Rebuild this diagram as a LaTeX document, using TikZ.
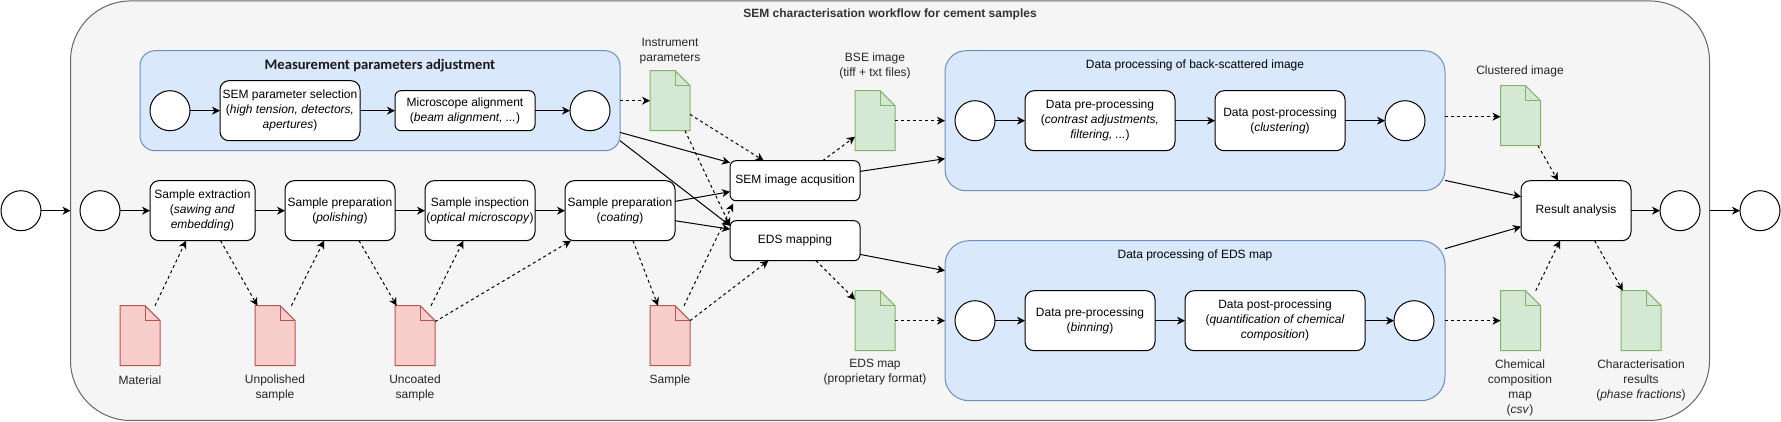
\documentclass[tikz,border=0pt]{standalone}
\usepackage{fontspec}
\setmainfont{Liberation Sans}
\newfontfamily\titlefont{Carlito}
\usetikzlibrary{arrows.meta,calc}
\definecolor{outerfill}{HTML}{F5F5F5}
\definecolor{outerline}{HTML}{666666}
\definecolor{bluefill}{HTML}{DAE8FC}
\definecolor{blueline}{HTML}{6C8EBF}
\definecolor{redfill}{HTML}{F8CECC}
\definecolor{redline}{HTML}{B85450}
\definecolor{greenfill}{HTML}{D5E8D4}
\definecolor{greenline}{HTML}{82B366}
\definecolor{titlegrey}{HTML}{333333}
\newcommand{\pbox}[7]{\node[procbox,rounded corners=#7,minimum width=#3-#2,minimum height=#5-#4] (#1) at ({(#2+#3)/2},{(#4+#5)/2}) {#6};}
\newcommand{\doc}[5]{%
 \path[draw=#5,fill=#4,line width=1pt] (#2,#3) -- (#2+25,#3) -- (#2+40,#3+15) -- (#2+40,#3+60) -- (#2,#3+60) -- cycle;
 \path[draw=#5,line width=1pt] (#2+25,#3) -- (#2+25,#3+15) -- (#2+40,#3+15);
 \node[minimum width=40,minimum height=60,inner sep=0pt,outer sep=0pt] (#1) at (#2+20,#3+30) {};
}
\tikzset{
 x=1pt,y=-1pt,
 every node/.style={font=\fontsize{12}{15}\selectfont,align=center,text=black,inner sep=0pt,outer sep=0pt},
 procbox/.style={draw=black,fill=white,line width=1pt},
 evt/.style={circle,draw=black,fill=white,line width=1pt,minimum size=40},
 lane/.style={draw=blueline,fill=bluefill,line width=1pt},
 flow/.style={draw=black,line width=1pt,-{Stealth[length=8pt,width=8pt,inset=2.4pt]}},
 dataflow/.style={flow,dash pattern=on 3pt off 3pt},
 lab/.style={text=black!85}
}
\begin{document}
\begin{tikzpicture}
\useasboundingbox (0,-0.7) rectangle (1781,420.3);
% containers
\node[draw=outerline,fill=outerfill,line width=1pt,rounded corners=60,minimum width=1639,minimum height=419.5] (outer) at (890,210) {};
\node[text=titlegrey,font=\fontsize{12}{15}\selectfont\bfseries] (outertitle) at (890,14) {SEM characterisation workflow for cement samples};
\node[lane,rounded corners=15,minimum width=480,minimum height=100] (meas) at (380,100) {};
\node[font=\titlefont\fontsize{14.6}{17}\selectfont\bfseries,text=black!90] (meastitle) at (380,64.5) {Measurement parameters adjustment};
\node[lane,rounded corners=21,minimum width=500,minimum height=140] (bse) at (1195,120) {};
\node (bsetitle) at (1195,64.5) {Data processing of back-scattered image};
\node[lane,rounded corners=24,minimum width=500,minimum height=160] (edsp) at (1195,320) {};
\node (edsptitle) at (1195,254.5) {Data processing of EDS map};
% events
\node[evt] (e1) at (21,210) {};
\node[evt] (e2) at (100,210) {};
\node[evt] (m1) at (170,110) {};
\node[evt] (m2) at (590,110) {};
\node[evt] (b1) at (975,120) {};
\node[evt] (b2) at (1405,120) {};
\node[evt] (d1) at (975,320) {};
\node[evt] (d2) at (1414,320) {};
\node[evt] (e3) at (1680,210) {};
\node[evt] (e4) at (1760,210) {};
% tasks
\pbox{semsel}{220}{360}{80}{140}{SEM parameter selection\\(\textit{high tension, detectors,}\\\textit{apertures})}{9}
\pbox{align}{395}{535}{90}{130}{Microscope alignment\\(\textit{beam alignment, ...})}{6}
\pbox{extr}{150}{255}{180}{240}{Sample extraction\\(\textit{sawing and}\\\textit{embedding})}{9}
\pbox{polish}{285}{395}{180}{240}{Sample preparation\\(\textit{polishing})}{9}
\pbox{inspect}{425}{535}{180}{240}{Sample inspection\\(\textit{optical microscopy})}{9}
\pbox{coat}{565}{675}{180}{240}{Sample preparation\\(\textit{coating})}{9}
\pbox{sem}{730}{860}{160}{200}{SEM image acqusition}{6}
\pbox{eds}{730}{860}{220}{260}{EDS mapping}{6}
\pbox{bpre}{1025}{1175}{90}{150}{Data pre-processing\\(\textit{contrast adjustments,}\\\textit{filtering, ...})}{9}
\pbox{bpost}{1215}{1345}{90}{150}{Data post-processing\\(\textit{clustering})}{9}
\pbox{dpre}{1025}{1155}{290}{350}{Data pre-processing\\(\textit{binning})}{9}
\pbox{dpost}{1185}{1365}{290}{350}{Data post-processing\\(\textit{quantification of chemical}\\\textit{composition})}{9}
\pbox{result}{1521}{1631}{180}{240}{Result analysis}{9}
% documents
\doc{material}{120}{305}{redfill}{redline}
\doc{unpol}{255}{305}{redfill}{redline}
\doc{uncoat}{395}{305}{redfill}{redline}
\doc{sample}{650}{305}{redfill}{redline}
\doc{instr}{650}{70}{greenfill}{greenline}
\doc{bseimg}{855}{90}{greenfill}{greenline}
\doc{edsmap}{855}{290}{greenfill}{greenline}
\doc{clust}{1500.5}{85}{greenfill}{greenline}
\doc{chem}{1500.5}{290}{greenfill}{greenline}
\doc{charres}{1621}{290}{greenfill}{greenline}
% labels
\node[lab] (lmaterial) at (140,379.7) {Material};
\node[lab] (lunpol) at (275,386.7) {Unpolished\\sample};
\node[lab] (luncoat) at (415,386.7) {Uncoated\\sample};
\node[lab] (lsample) at (670,379.7) {Sample};
\node[lab] (linstr) at (670,50) {Instrument\\parameters};
\node[lab] (lbse) at (875,65) {BSE image\\(tiff + txt files)};
\node[lab] (ledsmap) at (875,371.7) {EDS map\\(proprietary format)};
\node[lab] (lclust) at (1520,70.5) {Clustered image};
\node[lab] (lchem) at (1520,387.5) {Chemical\\composition\\map\\(\textit{csv})};
\node[lab] (lchar) at (1641,380) {Characterisation\\results\\(\textit{phase fractions})};
% solid flows
\draw[flow] (e1) -- (e1-|outer.west);
\draw[flow] (e2) -- (extr);
\draw[flow] (extr) -- (polish);
\draw[flow] (polish) -- (inspect);
\draw[flow] (inspect) -- (coat);
\draw[flow] (m1) -- (m1-|semsel.west);
\draw[flow] (semsel.east|-align) -- (align);
\draw[flow] (align) -- (m2);
\draw[flow] (b1) -- (bpre);
\draw[flow] (bpre) -- (bpost);
\draw[flow] (bpost) -- (b2);
\draw[flow] (d1) -- (dpre);
\draw[flow] (dpre) -- (dpost);
\draw[flow] (dpost) -- (d2);
\draw[flow] (result) -- (e3);
\draw[flow] (outer.east|-e4) -- (e4);
\draw[flow] ([yshift=-31.7pt]meas.east) -- ([yshift=-2pt]sem.north west);
\draw[flow] ([yshift=-40pt]meas.east) -- ([yshift=-5pt]eds.north west);
\draw[flow] ([yshift=9.3pt]coat.east) -- ([yshift=-11pt]sem.west);
\draw[flow] ([yshift=-10pt]coat.east) -- ([yshift=11.5pt]eds.west);
\draw[flow] ([yshift=9.3pt]sem.east) -- ([yshift=-38pt]bse.west);
\draw[flow] ([yshift=-13.7pt]eds.east) -- ([yshift=50pt]edsp.west);
\draw[flow] ([yshift=-59.7pt]bse.east) -- ([yshift=14pt]result.west);
\draw[flow] ([yshift=72pt]edsp.east) -- ([yshift=-16pt]result.west);
% data flows
\draw[dataflow] ([xshift=15pt]material.north) -- ([xshift=36pt]extr.south west);
\draw[dataflow] ([xshift=70.6pt]extr.south west) -- ([xshift=2.4pt]unpol.north west);
\draw[dataflow] ([xshift=36.4pt]unpol.north west) -- ([xshift=39pt]polish.south west);
\draw[dataflow] ([xshift=74pt]polish.south west) -- ([xshift=1.6pt]uncoat.north west);
\draw[dataflow] ([xshift=36pt]uncoat.north west) -- ([xshift=38.4pt]inspect.south west);
\draw[dataflow] ([yshift=44pt]uncoat.south east) -- ([xshift=6pt]coat.south west);
\draw[dataflow] ([xshift=68pt]coat.south west) -- ([xshift=8pt]sample.north west);
\draw[dataflow] ([xshift=34pt]sample.north west) -- ([xshift=3pt,yshift=-3pt]sem.south west);
\draw[dataflow] ([yshift=45pt]sample.south east) -- ([xshift=38.4pt]eds.south west);
\draw[dataflow] ([yshift=16.3pt]instr.south east) -- ([xshift=33.8pt]sem.north west);
\draw[dataflow] ([xshift=35pt]instr.south west) -- ([yshift=-5pt]eds.north west);
\draw[dataflow] ([xshift=92.7pt]sem.north west) -- ([yshift=-46pt]bseimg.north west);
\draw[dataflow] (bseimg.east) -- (bseimg.east-|bse.west);
\draw[dataflow] ([xshift=86pt]eds.south west) -- ([yshift=-9pt]edsmap.north west);
\draw[dataflow] (edsmap.east) -- (edsmap.east-|edsp.west);
\draw[dataflow] (meas.east) -- (instr.west);
\draw[dataflow] ([yshift=-66pt]bse.north east) -- ([yshift=-31pt]clust.north west);
\draw[dataflow] ([xshift=37.5pt]clust.south west) -- ([xshift=37pt]result.north west);
\draw[dataflow] ([xshift=35.2pt]chem.north west) -- ([xshift=39pt]result.south west);
\draw[dataflow] ([xshift=73.6pt]result.south west) -- ([xshift=1.8pt]charres.north west);
\draw[dataflow] (chem.west-|edsp.east) -- (chem.west);
\end{tikzpicture}
\end{document}
